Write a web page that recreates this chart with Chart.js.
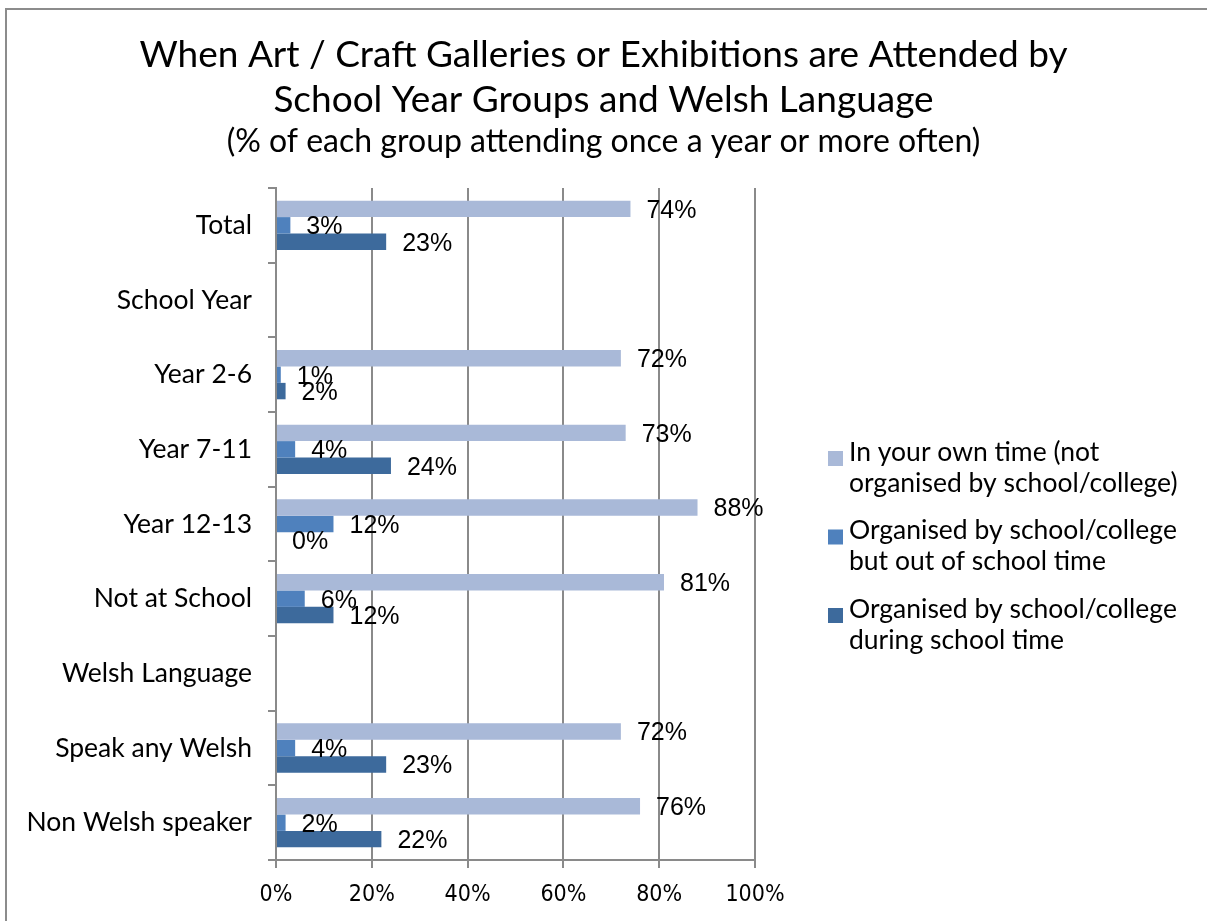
<!DOCTYPE html>
<html>
<head>
<meta charset="utf-8">
<script src="https://cdn.jsdelivr.net/npm/chart.js@4.4.0/dist/chart.umd.min.js"></script>
<style>
  html, body { margin: 0; padding: 0; background: #fff; overflow: hidden; }
  canvas { display: block; }
</style>
</head>
<body>
<canvas id="graficoGalerias" width="1207" height="921"></canvas>
<script>
// --- dados ---
const categorias = ['Total', 'School Year', 'Year 2-6', 'Year 7-11', 'Year 12-13', 'Not at School', 'Welsh Language', 'Speak any Welsh', 'Non Welsh speaker'];
const ownTime = [74, null, 72, 73, 88, 81, null, 72, 76];
const outOfSchool = [3, null, 1, 4, 12, 6, null, 4, 2];
const duringSchool = [23, null, 2, 24, 0, 12, null, 23, 22];
const seriesLabels = [
    ['In your own time (not', 'organised by school/college)'],
    ['Organised by school/college', 'but out of school time'],
    ['Organised by school/college', 'during school time']
];
const seriesColors = ['#A9B9D8', '#4F81BD', '#3D6A9C'];
const xTicks = [0, 20, 40, 60, 80, 100];

const gridGray = '#8A8A8A';
const mainFont = 'Lato, "Noto Sans", sans-serif';
const numFont = '"Liberation Sans Narrow", "DejaVu Sans Condensed", "Liberation Sans", sans-serif';

// moldura cinza em volta do gráfico
const molduraPlugin = {
    id: 'moldura',
    beforeDraw(chart) {
        const ctx = chart.ctx;
        ctx.save();
        ctx.fillStyle = '#fff';
        ctx.fillRect(0, 0, chart.width, chart.height);
        ctx.strokeStyle = '#8C8C8C';
        ctx.lineWidth = 2;
        ctx.strokeRect(6, 9, chart.width + 50, chart.height + 50);
        ctx.restore();
    }
};

// rótulos de valor ao lado das barras
const rotulosPlugin = {
    id: 'rotulos',
    afterDatasetsDraw(chart) {
        const ctx = chart.ctx;
        ctx.save();
        ctx.font = '25px "Liberation Sans", Arial, sans-serif';
        ctx.fillStyle = '#000';
        ctx.textAlign = 'left';
        ctx.textBaseline = 'middle';
        chart.data.datasets.forEach((ds, i) => {
            chart.getDatasetMeta(i).data.forEach((bar, j) => {
                const v = ds.data[j];
                if (v === null || v === undefined) return;
                ctx.fillText(v + '%', bar.x + 16, bar.y + 2);
            });
        });
        ctx.restore();
    }
};

// legenda à direita, com duas linhas por item
const legendaPlugin = {
    id: 'legenda',
    afterDraw(chart) {
        const ctx = chart.ctx;
        const x = chart.chartArea.right + 73;
        let y = 452;
        ctx.save();
        ctx.font = '26.5px ' + mainFont;
        ctx.textAlign = 'left';
        ctx.textBaseline = 'middle';
        seriesLabels.forEach((linhas, i) => {
            ctx.fillStyle = seriesColors[i];
            ctx.fillRect(x, y - 1, 15, 15);
            ctx.fillStyle = '#000';
            linhas.forEach((t, k) => ctx.fillText(t, x + 21, y + k * 31));
            y += 78.5;
        });
        ctx.restore();
    }
};

const ctxGalerias = document.getElementById('graficoGalerias');
new Chart(ctxGalerias, {
    type: 'bar',
    data: {
        labels: categorias,
        datasets: [
            { label: seriesLabels[0].join(' '), data: ownTime, backgroundColor: seriesColors[0] },
            { label: seriesLabels[1].join(' '), data: outOfSchool, backgroundColor: seriesColors[1] },
            { label: seriesLabels[2].join(' '), data: duringSchool, backgroundColor: seriesColors[2] }
        ]
    },
    options: {
        responsive: false,
        animation: false,
        indexAxis: 'y',
        layout: { padding: 0 },
        datasets: { bar: { categoryPercentage: 0.66, barPercentage: 1.0 } },
        plugins: {
            legend: { display: false },
            tooltip: { enabled: false },
            title: {
                display: true,
                text: ['When Art / Craft Galleries or Exhibitions are Attended by', 'School Year Groups and Welsh Language'],
                color: '#000',
                font: { family: mainFont, size: 37, weight: 'normal', lineHeight: 1.216 },
                padding: { top: 33, bottom: 0 }
            },
            subtitle: {
                display: true,
                text: '(% of each group attending once a year or more often)',
                color: '#000',
                font: { family: mainFont, size: 32, weight: 'normal', lineHeight: 1.2 },
                padding: { top: 0, bottom: 26.6 }
            }
        },
        scales: {
            x: {
                type: 'linear',
                min: 0,
                max: 100,
                afterBuildTicks: (s) => { s.ticks = xTicks.map(v => ({ value: v })); },
                afterFit: (s) => { s.height = 61; },
                ticks: {
                    callback: (v) => v + '%',
                    color: '#000',
                    padding: 13,
                    font: { family: numFont, size: 23 }
                },
                grid: { color: gridGray, lineWidth: 2, drawTicks: true, tickLength: 8 },
                border: { display: true, color: gridGray, width: 2 }
            },
            y: {
                type: 'category',
                afterFit: (s) => { s.width = 276; },
                ticks: {
                    color: '#000',
                    padding: 16,
                    font: { family: mainFont, size: 26.5 }
                },
                grid: { drawOnChartArea: false, drawTicks: true, tickLength: 8, color: gridGray, lineWidth: 2 },
                border: { display: true, color: gridGray, width: 2 }
            },
            espacoLegenda: {
                type: 'linear',
                position: 'right',
                display: true,
                ticks: { display: false },
                grid: { display: false },
                border: { display: false },
                afterFit: (s) => { s.width = 452; }
            }
        }
    },
    plugins: [molduraPlugin, rotulosPlugin, legendaPlugin]
});
</script>
</body>
</html>
